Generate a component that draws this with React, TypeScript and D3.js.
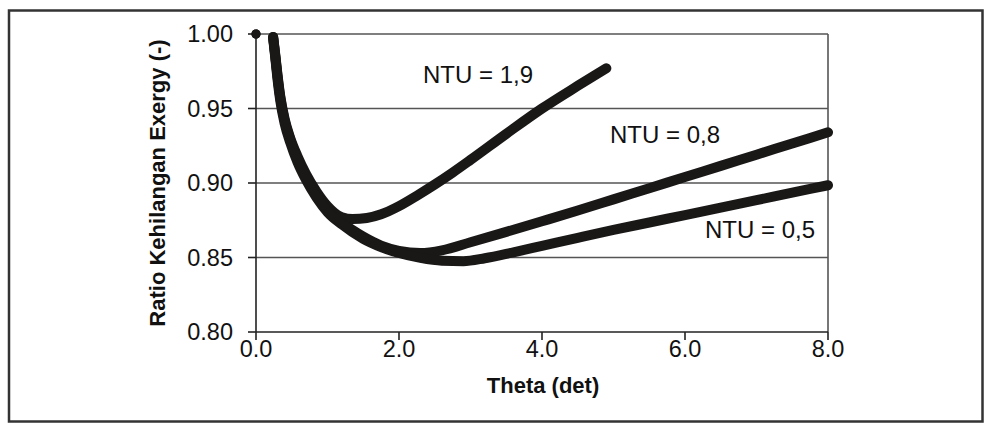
import React from "react";
import * as d3 from "d3";

// Theta (det) values and exergy-loss ratio for each NTU series
const thetaNTU19 = [0, 0.24, 0.27, 0.3, 0.34, 0.4, 0.48, 0.58, 0.7, 0.85, 1.0, 1.2, 1.35, 1.55, 1.75, 2.0, 2.25, 2.5, 2.75, 3.0, 3.5, 4.0, 4.5, 4.9];
const ratioNTU19 = [1.0, 0.998, 0.986, 0.973, 0.958, 0.943, 0.930, 0.918, 0.906, 0.894, 0.8845, 0.877, 0.8758, 0.8765, 0.879, 0.8845, 0.8915, 0.899, 0.907, 0.9155, 0.933, 0.95, 0.9652, 0.977];

const thetaNTU08 = [0, 0.24, 0.27, 0.3, 0.34, 0.4, 0.48, 0.58, 0.7, 0.85, 1.0, 1.2, 1.5, 1.75, 2.0, 2.3, 2.6, 3.0, 3.5, 4.0, 4.5, 5.0, 5.5, 6.0, 6.5, 7.0, 7.5, 8.0];
const ratioNTU08 = [1.0, 0.998, 0.985, 0.972, 0.957, 0.942, 0.929, 0.916, 0.904, 0.892, 0.882, 0.8735, 0.864, 0.858, 0.8545, 0.853, 0.8548, 0.8602, 0.8672, 0.8743, 0.8815, 0.889, 0.8965, 0.904, 0.9115, 0.919, 0.9265, 0.934];

const thetaNTU05 = [0, 0.24, 0.27, 0.3, 0.34, 0.4, 0.48, 0.58, 0.7, 0.85, 1.0, 1.2, 1.5, 1.75, 2.0, 2.3, 2.6, 2.9, 3.2, 3.6, 4.0, 4.5, 5.0, 5.5, 6.0, 6.5, 7.0, 7.5, 8.0];
const ratioNTU05 = [1.0, 0.997, 0.984, 0.97, 0.955, 0.94, 0.927, 0.914, 0.902, 0.89, 0.8805, 0.8722, 0.8625, 0.857, 0.853, 0.8497, 0.8478, 0.8475, 0.8495, 0.8535, 0.8578, 0.8632, 0.8685, 0.8735, 0.8785, 0.8835, 0.8885, 0.8935, 0.8985];

const seriesLabels = ["NTU = 1,9", "NTU = 0,8", "NTU = 0,5"];
const xTicks = [0, 2, 4, 6, 8];
const yTicks = [0.8, 0.85, 0.9, 0.95, 1.0];
const xTitle = "Theta (det)";
const yTitle = "Ratio Kehilangan Exergy (-)";

export default function App() {
  const W = 984;
  const H = 424;
  const x = d3.scaleLinear().domain([0, 8]).range([256, 828]);
  const y = d3.scaleLinear().domain([0.8, 1.0]).range([332, 34]);

  const series = [
    { xs: thetaNTU19, ys: ratioNTU19, label: seriesLabels[0], lx: 423, ly: 83 },
    { xs: thetaNTU08, ys: ratioNTU08, label: seriesLabels[1], lx: 610, ly: 143 },
    { xs: thetaNTU05, ys: ratioNTU05, label: seriesLabels[2], lx: 705, ly: 238 },
  ];

  const line = d3
    .line<[number, number]>()
    .x((d) => x(d[0]))
    .y((d) => y(d[1]))
    .curve(d3.curveMonotoneX);

  const font = "'Liberation Sans', Arial, Helvetica, sans-serif";
  const ink = "#1a1717";

  return (
    <svg
      width={W}
      height={H}
      style={{ position: "absolute", left: 0, top: 0, background: "#fff" }}
      fontFamily={font}
    >
      <rect x={0} y={0} width={W} height={H} fill="#fff" />
      <rect x={9} y={10.5} width={973.5} height={411} fill="none" stroke="#333" strokeWidth={2.5} />

      {/* gridlines */}
      {yTicks.slice(1).map((t) => (
        <line key={"g" + t} x1={x(0)} x2={x(8)} y1={y(t)} y2={y(t)} stroke="#555" strokeWidth={1.6} />
      ))}
      {/* right plot border */}
      <line x1={x(8)} x2={x(8)} y1={y(1)} y2={y(0.8)} stroke="#555" strokeWidth={1.6} />

      {/* axes */}
      <line x1={x(0)} x2={x(0)} y1={y(1)} y2={y(0.8)} stroke="#222" strokeWidth={1.6} />
      <line x1={x(0)} x2={x(8)} y1={y(0.8)} y2={y(0.8)} stroke="#222" strokeWidth={1.6} />
      {yTicks.map((t) => (
        <g key={"yt" + t}>
          <line x1={x(0) - 8} x2={x(0)} y1={y(t)} y2={y(t)} stroke="#222" strokeWidth={1.6} />
          <text x={233} y={y(t)} dy="0.36em" textAnchor="end" fontSize={23.5} fill="#111">
            {t.toFixed(2)}
          </text>
        </g>
      ))}
      {xTicks.map((t) => (
        <g key={"xt" + t}>
          <line x1={x(t)} x2={x(t)} y1={y(0.8)} y2={y(0.8) + 8} stroke="#222" strokeWidth={1.6} />
          <text x={x(t)} y={357} textAnchor="middle" fontSize={23.5} fill="#111">
            {t.toFixed(1)}
          </text>
        </g>
      ))}

      <text x={543} y={393} textAnchor="middle" fontSize={22} fontWeight="bold" fill="#111">
        {xTitle}
      </text>
      <text
        transform={`translate(165,183) rotate(-90)`}
        textAnchor="middle"
        fontSize={22}
        fontWeight="bold"
        fill="#111"
      >
        {yTitle}
      </text>

      {/* series */}
      {series.map((s, i) => {
        const pts: [number, number][] = s.xs.map((v, k) => [v, s.ys[k]]);
        return (
          <g key={"s" + i}>
            <path
              d={line(pts.slice(1)) || ""}
              fill="none"
              stroke={ink}
              strokeWidth={10}
              strokeLinecap="round"
              strokeLinejoin="round"
            />
            <circle cx={x(pts[0][0])} cy={y(pts[0][1])} r={4.5} fill={ink} />
          </g>
        );
      })}

      {series.map((s, i) => (
        <text key={"l" + i} x={s.lx} y={s.ly} fontSize={24} fill="#111">
          {s.label}
        </text>
      ))}
    </svg>
  );
}
